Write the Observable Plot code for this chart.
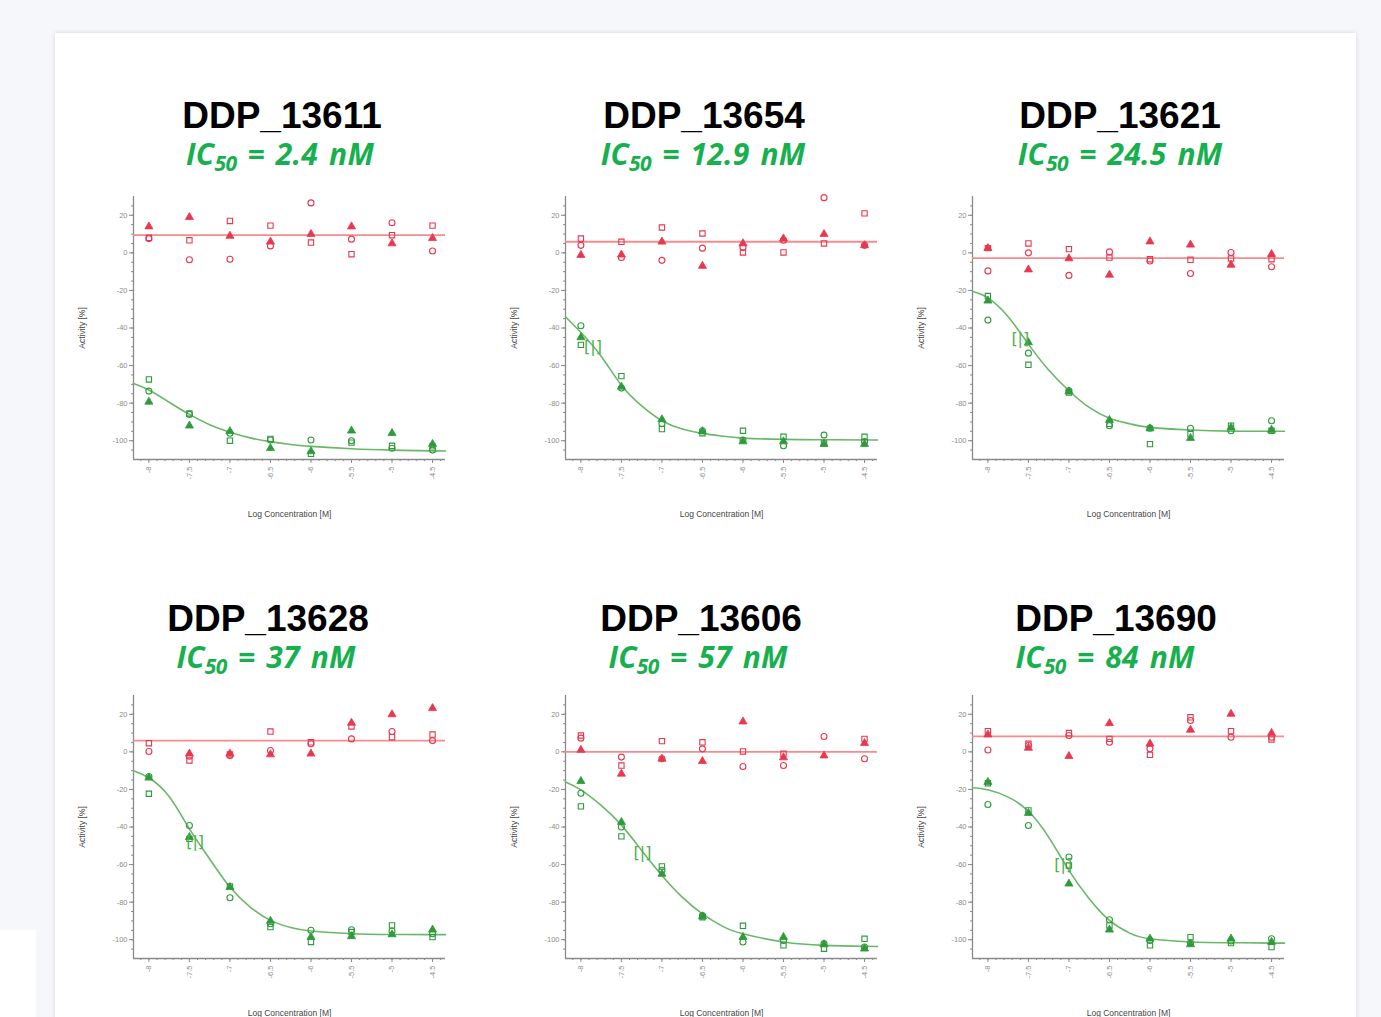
<!DOCTYPE html>
<html>
<head>
<meta charset="utf-8">
<script src="https://cdn.jsdelivr.net/npm/d3@7"></script>
<script src="https://cdn.jsdelivr.net/npm/@observablehq/plot@0.6"></script>
<style>
  html, body { margin: 0; padding: 0; }
  body { width: 1381px; height: 1017px; background: #f6f7fb; position: relative; overflow: hidden; font-family: "Liberation Sans", Arial, sans-serif; }
  #card { position: absolute; left: 55px; top: 33px; width: 1301px; height: 1100px; background: #fff; box-shadow: 0 0 5px rgba(0,0,0,0.13); }
  #corner { position: absolute; left: 0; top: 930px; width: 36px; height: 87px; background: #fff; }
  .title { position: absolute; transform: translateX(-50%); white-space: nowrap; font-family: "Liberation Sans", Arial, sans-serif; font-weight: bold; font-size: 37px; color: #000; line-height: 1; }
  .ic50 { position: absolute; transform: translateX(-50%); white-space: nowrap; font-family: "Open Sans", Lato, sans-serif; font-weight: 700; font-style: italic; font-size: 30px; letter-spacing: 0.2px; word-spacing: 3px; color: #17b04f; line-height: 1; }
  .ic50 sub { font-size: 0.7em; vertical-align: -0.3em; line-height: 0; letter-spacing: -0.5px; }
  .panel { position: absolute; }
</style>
</head>
<body>
<div id="card"></div>
<div id="corner"></div>
<div id="root"></div>
<script>
// ---- data ----
const concentrations = [-8, -7.5, -7, -6.5, -6, -5.5, -5, -4.5];
const compounds = ["DDP_13611", "DDP_13654", "DDP_13621", "DDP_13628", "DDP_13606", "DDP_13690"];
const ic50Text = ["2.4", "12.9", "24.5", "37", "57", "84"];
const ic50Log = [null, -7.85, -7.6, -7.43, -7.24, -7.07];
const ic50BracketY = [null, -50, -46, -48, -54, -60];
const redFitLevel = [9.4, 5.9, -2.8, 6, 0, 8.2];

const curveX = [-8.19, -8, -7.75, -7.5, -7.25, -7, -6.75, -6.5, -6.25, -6, -5.5, -5, -4.5, -4.34];
const curve13611 = [-69.5, -73, -79.5, -86, -91.5, -95.5, -98.5, -100.5, -102, -103, -104.3, -105, -105.4, -105.5];
const curve13654 = [-34, -42.4, -55, -70.5, -81.5, -89.4, -93.8, -96.1, -97.6, -98.6, -99.3, -99.5, -99.6, -99.6];
const curve13621 = [-20.6, -24, -34, -48.6, -62.4, -73.4, -82.3, -88, -91, -92.9, -94.3, -94.9, -95, -95];
const curve13628 = [-10, -13.8, -23.8, -41, -57, -72, -82.6, -89.7, -93.5, -95.4, -96.8, -97.2, -97.3, -97.3];
const curve13606 = [-16, -20.2, -28.5, -39, -52.5, -65.8, -77.3, -86.2, -92.9, -96.8, -101.2, -103, -103.5, -103.6];
const curve13690 = [-19.1, -20.2, -24.1, -31.6, -45.4, -63.1, -78.2, -89.7, -96.5, -99.5, -101.2, -101.6, -101.8, -101.8];

// control (red) replicates
const redCircle13611 = [7.6, -3.7, -3.4, 3.7, 26.6, 7.3, 16, 1];
const redSquare13611 = [8, 6.7, 17, 14.5, 5.5, -0.7, 9.4, 14.5];
const redTriangle13611 = [14, 19, 9, 5.9, 10, 14, 5, 7.8];
const redCircle13654 = [4, -2.5, -4, 2.5, 2.8, 6.7, 29.4, 4];
const redSquare13654 = [7.6, 5.9, 13.5, 10.3, 0.2, 0.2, 5, 21];
const redTriangle13654 = [-1.2, -1, 5.9, -7, 5, 7.6, 10, 4];
const redCircle13621 = [-9.6, 0, -12, 0.5, -4.3, -11, 0.2, -7.4];
const redSquare13621 = [2.5, 5, 2, -2.5, -3.4, -3.7, -3, -3.4];
const redTriangle13621 = [2.5, -8.9, -3, -11.7, 6, 4.3, -6.4, -0.7];
const redCircle13628 = [0.2, -2.3, -2, 0.7, 4.3, 6.9, 10.8, 6];
const redSquare13628 = [4.6, -4.6, -1.4, 10.8, 5.1, 13.5, 7.8, 9.2];
const redTriangle13628 = [null, -1, -1, -1.4, -1, 15.4, 19.9, 23.2];
const redCircle13606 = [7.3, -2.8, -3.7, 1.6, -7.8, -7.3, 8.2, -3.7];
const redSquare13606 = [8.7, -7.3, 5.7, 5.1, 0.2, -1, null, 6.9];
const redTriangle13606 = [1, -11.7, -3.7, -5, 16.1, -3, -2, 4.6];
const redCircle13690 = [1, 3.4, 8.7, 5.1, 1.6, 16.7, 7.8, 7.8];
const redSquare13690 = [11, 4.3, 10, 6.9, -1.6, 18.4, 11, 6.6];
const redTriangle13690 = [9.2, 2.1, -2.3, 15.2, 4.3, 11.7, 20.2, 10];

// compound (green) replicates
const greenCircle13611 = [-73.6, -86, -96, -99.6, -99.6, -100, -104, -105];
const greenSquare13611 = [-67.4, -85.5, -100, -99, -107, -101, -102.7, -103];
const greenTriangle13611 = [-79.3, -92, -95, -104, -105.7, -94.7, -96, -101.8];
const greenCircle13654 = [-38.8, -72, -91, -94.7, -99.6, -102.7, -97, -100.4];
const greenSquare13654 = [-49, -65.6, -93.8, -96, -94.7, -97.9, -101.4, -97.9];
const greenTriangle13654 = [-45, -71.3, -88.7, -95, -100.4, -100.4, -101.8, -101.8];
const greenCircle13621 = [-35.8, -53.4, -73.4, -92, -93.3, -93.4, -94.7, -89.4];
const greenSquare13621 = [-23, -59.6, -74.3, -91, -101.8, -96.5, -92, -94.7];
const greenTriangle13621 = [-25.5, -47.7, -73.8, -89, -93.5, -98.6, -93, -94.3];
const greenCircle13628 = [-13.1, -39.2, -77.7, -91.5, -95, -94.7, -95.4, -96.8];
const greenSquare13628 = [-22.3, -46.3, -71.6, -93.3, -101.2, -95.9, -92.4, -98.6];
const greenTriangle13628 = [-13.8, -45.4, -72, -90, -98.6, -98.2, -97.2, -94.7];
const greenCircle13606 = [-22, -40, -63, -87.2, -101.2, -100.4, -102.1, -103.9];
const greenSquare13606 = [-29, -45, -61, -88, -92.6, -103, -104.8, -99.5];
const greenTriangle13606 = [-15.6, -37.4, -65, -87.6, -98.6, -98.6, -102.5, -104.8];
const greenCircle13690 = [-28, -39.2, -56, -89.4, -100.4, -101.8, -100.7, -99.5];
const greenSquare13690 = [-16.7, -31.2, -60.5, -92.4, -103, -98.6, -101.8, -103.9];
const greenTriangle13690 = [-16.1, -32.6, -70.2, -94.7, -99.5, -102.5, -99.5, -101.2];

const yTicks = [20, 0, -20, -40, -60, -80, -100];
const yDomain = [-110, 30];
const xDomain = [-8.19, -4.34];

// ---- assemble per-panel tables ----
const redSets = [
  [redCircle13611, redSquare13611, redTriangle13611],
  [redCircle13654, redSquare13654, redTriangle13654],
  [redCircle13621, redSquare13621, redTriangle13621],
  [redCircle13628, redSquare13628, redTriangle13628],
  [redCircle13606, redSquare13606, redTriangle13606],
  [redCircle13690, redSquare13690, redTriangle13690]
];
const greenSets = [
  [greenCircle13611, greenSquare13611, greenTriangle13611],
  [greenCircle13654, greenSquare13654, greenTriangle13654],
  [greenCircle13621, greenSquare13621, greenTriangle13621],
  [greenCircle13628, greenSquare13628, greenTriangle13628],
  [greenCircle13606, greenSquare13606, greenTriangle13606],
  [greenCircle13690, greenSquare13690, greenTriangle13690]
];
const curves = [curve13611, curve13654, curve13621, curve13628, curve13606, curve13690];
const shapes = ["circle", "square", "triangle"];

const RED = "#e8384f", RED_LINE = "#f38b8f";
const GREEN = "#2f9a3c", GREEN_LINE = "#68b868";
const AXIS = "#8a8a8a";

function toRows(sets, series) {
  const rows = [];
  sets.forEach((vals, s) => vals.forEach((v, k) => {
    if (v != null) rows.push({x: concentrations[k], y: v, shape: shapes[s], series});
  }));
  return rows;
}

const plotLefts = [132.6, 565.3, 971.9];
const plotTops = [196, 695];
const mL = 70, mR = 12, mT = 10, mB = 75;
const plotW = 312, plotH = 263;

const minorX = d3.range(-8.1, -4.34, 0.1).map(v => Math.round(v * 10) / 10);
const minorY = d3.range(-105, 30, 5);

const root = document.getElementById("root");

compounds.forEach((name, i) => {
  const col = i % 3, row = Math.floor(i / 3);
  const rows = toRows(redSets[i], "red").concat(toRows(greenSets[i], "green"));
  const hollow = rows.filter(d => d.shape !== "triangle");
  const tris = rows.filter(d => d.shape === "triangle");
  const curvePts = curveX.map((x, k) => ({x, y: curves[i][k]}));
  const marks = [
    Plot.axisY({ticks: minorY, tickSize: 2, tickFormat: () => "", label: null, stroke: AXIS}),
    Plot.axisY({ticks: yTicks, tickSize: 4, tickPadding: 2, tickFormat: d => String(d), fontSize: 7.5, color: "#8c8c8c", label: null}),
    Plot.axisY({ticks: [], label: "Activity [%]", labelAnchor: "center", labelOffset: 55, labelArrow: "none", fontSize: 8.5, color: "#444"}),
    Plot.axisX({ticks: minorX, tickSize: 2, tickFormat: () => "", label: null, stroke: AXIS}),
    Plot.axisX({ticks: concentrations, tickSize: 4, tickPadding: 3, tickRotate: -90, tickFormat: d => String(d), fontSize: 7.5, color: "#8c8c8c", label: null}),
    Plot.axisX({ticks: [], label: "Log Concentration [M]", labelAnchor: "center", labelOffset: 57, labelArrow: "none", fontSize: 8.5, color: "#444"}),
    Plot.ruleX([xDomain[0]], {stroke: AXIS, strokeWidth: 1.3}),
    Plot.ruleY([yDomain[0]], {stroke: AXIS, strokeWidth: 1.3}),
    Plot.ruleY([redFitLevel[i]], {x1: xDomain[0], x2: xDomain[1], stroke: RED_LINE, strokeWidth: 1.8}),
    Plot.line(curvePts, {x: "x", y: "y", curve: "natural", stroke: GREEN_LINE, strokeWidth: 1.6}),
    Plot.dot(hollow, {x: "x", y: "y", symbol: "shape", r: 3, fill: "none", stroke: d => d.series === "red" ? RED : GREEN, strokeWidth: 1.1}),
    Plot.dot(tris, {x: "x", y: "y", symbol: "shape", r: 3, fill: d => d.series === "red" ? RED : GREEN, stroke: d => d.series === "red" ? RED : GREEN, strokeWidth: 0.8})
  ];
  if (ic50Log[i] != null) {
    marks.push(Plot.text([{x: ic50Log[i], y: ic50BracketY[i]}], {x: "x", y: "y", text: () => "[|]", fill: "#4fae4f", fontSize: 16, fontFamily: "DejaVu Sans"}));
  }
  const chart = Plot.plot({
    width: mL + plotW + mR, height: mT + plotH + mB,
    marginLeft: mL, marginRight: mR, marginTop: mT, marginBottom: mB,
    x: {domain: xDomain},
    y: {domain: yDomain},
    color: {type: "identity"},
    style: {fontFamily: "'Liberation Sans', Arial, sans-serif", background: "transparent", overflow: "visible"},
    marks
  });
  const wrap = document.createElement("div");
  wrap.className = "panel";
  wrap.style.left = (plotLefts[col] - mL) + "px";
  wrap.style.top = (plotTops[row] - mT) + "px";
  wrap.appendChild(chart);
  root.appendChild(wrap);
});

// titles
const titleCenters = [[282, 704, 1120], [268, 701, 1116]];
const ic50Centers = [[280, 703, 1120], [266, 698, 1105]];
const titleTops = [97, 600];
const ic50Tops = [139, 642];
compounds.forEach((name, i) => {
  const col = i % 3, row = Math.floor(i / 3);
  const t = document.createElement("div");
  t.className = "title";
  t.textContent = name;
  t.style.left = titleCenters[row][col] + "px";
  t.style.top = titleTops[row] + "px";
  root.appendChild(t);
  const s = document.createElement("div");
  s.className = "ic50";
  s.innerHTML = "IC<sub>50</sub> = " + ic50Text[i] + " nM";
  s.style.left = ic50Centers[row][col] + "px";
  s.style.top = ic50Tops[row] + "px";
  root.appendChild(s);
});
</script>
</body>
</html>
